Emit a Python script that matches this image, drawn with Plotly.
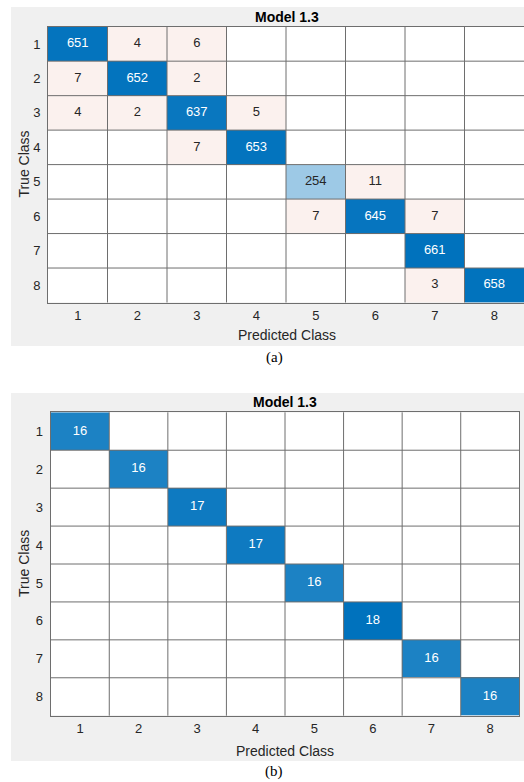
import plotly.graph_objects as go

# ---------------- data ----------------
classes = [1, 2, 3, 4, 5, 6, 7, 8]
tick_labels = ["1", "2", "3", "4", "5", "6", "7", "8"]

cm_a = [
    [651, 4, 6, 0, 0, 0, 0, 0],
    [7, 652, 2, 0, 0, 0, 0, 0],
    [4, 2, 637, 5, 0, 0, 0, 0],
    [0, 0, 7, 653, 0, 0, 0, 0],
    [0, 0, 0, 0, 254, 11, 0, 0],
    [0, 0, 0, 0, 7, 645, 7, 0],
    [0, 0, 0, 0, 0, 0, 661, 0],
    [0, 0, 0, 0, 0, 0, 3, 658],
]
cm_b = [
    [16, 0, 0, 0, 0, 0, 0, 0],
    [0, 16, 0, 0, 0, 0, 0, 0],
    [0, 0, 17, 0, 0, 0, 0, 0],
    [0, 0, 0, 17, 0, 0, 0, 0],
    [0, 0, 0, 0, 16, 0, 0, 0],
    [0, 0, 0, 0, 0, 18, 0, 0],
    [0, 0, 0, 0, 0, 0, 16, 0],
    [0, 0, 0, 0, 0, 0, 0, 16],
]
chart_title = "Model 1.3"
x_title = "Predicted Class"
y_title = "True Class"
captions = ["(a)", "(b)"]

# ---------------- style ----------------
W, H = 524, 782
BLUE = "#0072BD"
PINK = "#fbf1ee"
PANEL = "#f0f0f0"
GRIDC = "#6e6e6e"
TXT = "#262626"
SANS = "Liberation Sans, Arial, sans-serif"
SERIF = "Liberation Serif, DejaVu Serif, serif"

colorscale = [[0.0, PINK], [0.25, PINK], [0.4999, PINK], [0.5, "#ffffff"], [1.0, BLUE]]


def px_x(x):
    return x / W


def px_y(y):
    return 1 - y / H


fig = go.Figure()

panels = [
    dict(cm=cm_a, gx=(48, 524), gy=(26.7, 302.5), bg=(11, 7, 524, 346),
         title_y=16.5, xt_y=335, yt_x=24, cap_y=357, xa="x", ya="y", cx=287),
    dict(cm=cm_b, gx=(50.7, 519.3), gy=(412.3, 715.7), bg=(11, 393, 524, 761),
         title_y=402, xt_y=751, yt_x=24, cap_y=771, xa="x2", ya="y2", cx=285),
]

shapes = []
annotations = []

for k, p in enumerate(panels):
    cm = p["cm"]
    n = len(classes)
    maxv = max(max(r) for r in cm)
    z = []
    wx, wy, wt = [], [], []
    bx, by, bt = [], [], []
    for i in range(n):
        zr = []
        for j in range(n):
            v = cm[i][j]
            if v == 0:
                zr.append(0.0)
            elif i == j:
                t = v / maxv
                zr.append(t)
                if t > 0.5:
                    wx.append(classes[j]); wy.append(classes[i]); wt.append(str(v))
                else:
                    bx.append(classes[j]); by.append(classes[i]); bt.append(str(v))
            else:
                zr.append(-1.0)
                bx.append(classes[j]); by.append(classes[i]); bt.append(str(v))
        z.append(zr)

    fig.add_trace(go.Heatmap(
        x=classes, y=classes, z=z, colorscale=colorscale, zmin=-1, zmax=1,
        showscale=False, hoverinfo="skip",
        xaxis=p["xa"], yaxis=p["ya"],
    ))
    fig.add_trace(go.Scatter(
        x=wx, y=wy, text=wt, mode="text", showlegend=False, hoverinfo="skip",
        textfont=dict(family=SANS, size=13, color="white"),
        xaxis=p["xa"], yaxis=p["ya"],
    ))
    fig.add_trace(go.Scatter(
        x=bx, y=by, text=bt, mode="text", showlegend=False, hoverinfo="skip",
        textfont=dict(family=SANS, size=13, color=TXT),
        xaxis=p["xa"], yaxis=p["ya"],
    ))

    # cell borders between categories
    for c in classes[:-1]:
        shapes.append(dict(type="line", xref=p["xa"], yref=p["ya"] + " domain",
                           x0=c + 0.5, x1=c + 0.5, y0=0, y1=1, layer="above",
                           line=dict(color=GRIDC, width=1)))
        shapes.append(dict(type="line", xref=p["xa"] + " domain", yref=p["ya"],
                           x0=0, x1=1, y0=c + 0.5, y1=c + 0.5, layer="above",
                           line=dict(color=GRIDC, width=1)))

    x0, y0, x1, y1 = p["bg"]
    shapes.append(dict(type="rect", xref="paper", yref="paper", layer="below",
                       x0=px_x(x0), x1=px_x(x1), y0=px_y(y1), y1=px_y(y0),
                       fillcolor=PANEL, line=dict(width=0)))

    gx0, gx1 = p["gx"]
    gy0, gy1 = p["gy"]
    cx = p["cx"]
    annotations.append(dict(text="<b>" + chart_title + "</b>", xref="paper", yref="paper",
                            x=px_x(cx), y=px_y(p["title_y"]), showarrow=False,
                            xanchor="center", yanchor="middle",
                            font=dict(family=SANS, size=14, color="#000000")))
    annotations.append(dict(text=x_title, xref="paper", yref="paper",
                            x=px_x(cx), y=px_y(p["xt_y"]), showarrow=False,
                            xanchor="center", yanchor="middle",
                            font=dict(family=SANS, size=14, color=TXT)))
    annotations.append(dict(text=y_title, xref="paper", yref="paper", textangle=-90,
                            x=px_x(p["yt_x"]), y=px_y((gy0 + gy1) / 2), showarrow=False,
                            xanchor="center", yanchor="middle",
                            font=dict(family=SANS, size=14, color=TXT)))
    annotations.append(dict(text=captions[k], xref="paper", yref="paper",
                            x=px_x(274), y=px_y(p["cap_y"]), showarrow=False,
                            xanchor="center", yanchor="middle",
                            font=dict(family=SERIF, size=15, color="#000000")))

    axis_common = dict(tickmode="array", tickvals=classes, ticktext=tick_labels,
                       showgrid=False, zeroline=False, showline=True, mirror=True,
                       linecolor=GRIDC, linewidth=1, ticks="",
                       tickfont=dict(family=SANS, size=13, color=TXT), fixedrange=True)
    sfx = "" if k == 0 else "2"
    fig.update_layout(**{
        "xaxis" + sfx: dict(axis_common, domain=[px_x(gx0), min(1.0, px_x(gx1))],
                            range=[0.5, 8.5], anchor="y" + sfx, ticklabelstandoff=1),
        "yaxis" + sfx: dict(axis_common, domain=[px_y(gy1), px_y(gy0)],
                            range=[8.5, 0.5], anchor="x" + sfx, ticklabelstandoff=4),
    })

fig.update_layout(
    width=W, height=H, margin=dict(l=0, r=0, t=0, b=0),
    paper_bgcolor="white", plot_bgcolor="white",
    shapes=shapes, annotations=annotations, showlegend=False,
)

fig.write_html(
    "out.html",
    config={"displayModeBar": False},
    post_script="document.body.style.margin='0';document.body.style.overflow='hidden';",
)
